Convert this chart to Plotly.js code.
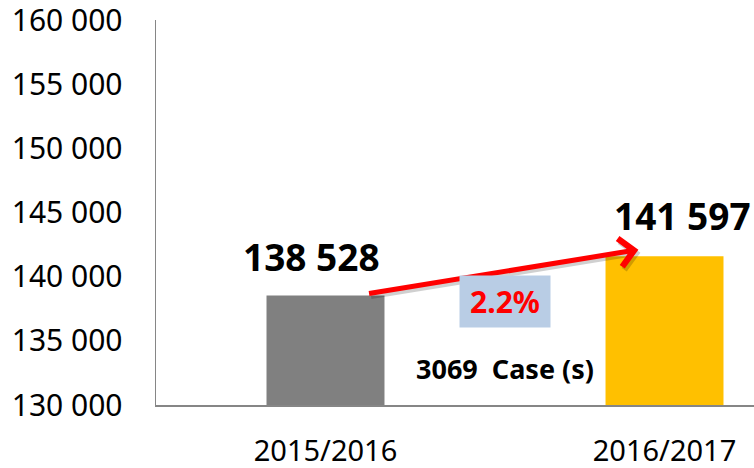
<!DOCTYPE html>
<html>
<head>
<meta charset="utf-8">
<script src="https://cdn.plot.ly/plotly-3.0.1.min.js"></script>
<style>html,body{margin:0;padding:0;background:#fff;}#chart{width:754px;height:468px;}</style>
</head>
<body>
<div id="chart"></div>
<script>
const categories = ['2015/2016', '2016/2017'];
const values = [138528, 141597];
const barColors = ['#808080', '#FFC000'];
const yTickVals = [130000, 135000, 140000, 145000, 150000, 155000, 160000];

const diff = values[1] - values[0];
const pct = (diff / values[0] * 100).toFixed(1) + '%';
const fmt = v => String(v).replace(/\B(?=(\d{3})+(?!\d))/g, ' ');
const FONT = 'Noto Sans, Open Sans, sans-serif';

const trace = {
  type: 'bar',
  x: [0, 1],
  y: values,
  base: 0,
  marker: {color: barColors, line: {width: 0}},
  width: 0.348,
  hoverinfo: 'skip'
};

const annotations = [
  {x: 0, y: values[0], xref: 'x', yref: 'y', text: '<b>' + fmt(values[0]) + '</b>',
   showarrow: false, yanchor: 'bottom', xshift: -14, yshift: 12,
   font: {family: FONT, size: 37, color: '#000'}},
  {x: 1, y: values[1], xref: 'x', yref: 'y', text: '<b>' + fmt(values[1]) + '</b>',
   showarrow: false, yanchor: 'bottom', xshift: 18, yshift: 13,
   font: {family: FONT, size: 37, color: '#000'}},
  // shadow arrow
  {x: 0.923, y: values[1] + 510, ax: 0.124, ay: values[0] + 140, xref: 'x', yref: 'y', axref: 'x', ayref: 'y',
   text: '', showarrow: true, arrowhead: 4, arrowsize: 1.1, arrowwidth: 5, arrowcolor: 'rgba(0,0,0,0.18)',
   xshift: 2, yshift: -3},
  {x: 0.923, y: values[1] + 510, ax: 0.124, ay: values[0] + 140, xref: 'x', yref: 'y', axref: 'x', ayref: 'y',
   text: '', showarrow: true, arrowhead: 4, arrowsize: 1.1, arrowwidth: 5, arrowcolor: '#FF0000'},
  {x: 0.53, y: 138100, xref: 'x', yref: 'y', text: '<b>' + pct + '</b>', showarrow: false,
   bgcolor: '#B9CDE5', width: 90, height: 51, borderpad: 0,
   font: {family: FONT, size: 30, color: '#FF0000'}},
  {x: 0.53, y: 132880, xref: 'x', yref: 'y', text: '<b>' + diff + '  Case (s)</b>', showarrow: false,
   font: {family: FONT, size: 27, color: '#000'}}
];

const layout = {
  width: 754, height: 468,
  margin: {l: 156, r: 0, t: 20, b: 63, pad: 0},
  paper_bgcolor: '#fff', plot_bgcolor: '#fff',
  showlegend: false,
  separators: '. ',
  xaxis: {
    type: 'linear',
    range: [-0.5, 1.264],
    tickmode: 'array', tickvals: [0, 1], ticktext: categories,
    showgrid: false, zeroline: false,
    showline: true, linecolor: '#868686', linewidth: 2,
    ticks: '', ticklabelstandoff: 19, ticklabeloverflow: 'allow',
    tickfont: {family: FONT, size: 29, color: '#000'},
    fixedrange: true
  },
  yaxis: {
    range: [130000, 160000],
    tickmode: 'array', tickvals: yTickVals, ticktext: yTickVals.map(fmt),
    showgrid: false, zeroline: false,
    showline: true, linecolor: '#868686', linewidth: 1.5,
    ticks: '', ticklabelstandoff: 26, ticklabeloverflow: 'allow',
    tickfont: {family: FONT, size: 30, color: '#000'},
    fixedrange: true
  },
  annotations: annotations
};

Plotly.newPlot('chart', [trace], layout, {displayModeBar: false, staticPlot: true});
</script>
</body>
</html>
